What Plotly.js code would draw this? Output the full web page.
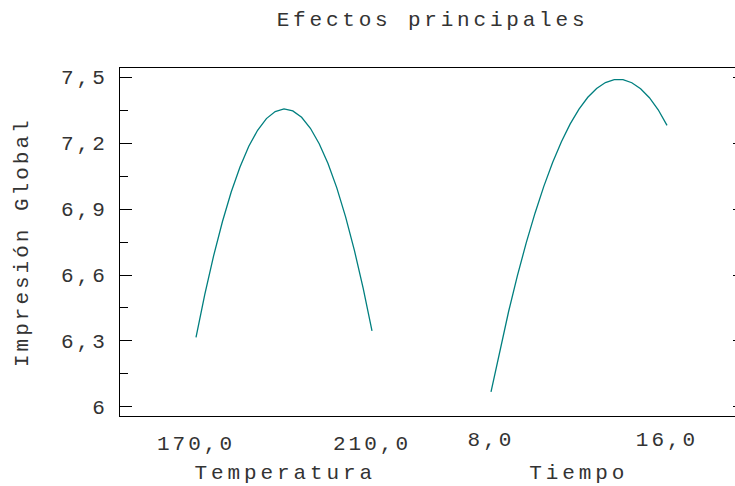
<!DOCTYPE html>
<html>
<head>
<meta charset="utf-8">
<script src="https://cdn.plot.ly/plotly-3.0.1.min.js"></script>
<style>
html, body { margin: 0; padding: 0; overflow: hidden; background: #fff; }
#chart text { letter-spacing: 3px; }
#chart .gtitle { letter-spacing: 3.8px; }
#chart .annotation[data-index="0"] text,
#chart .annotation[data-index="1"] text { letter-spacing: 3.9px; }
</style>
</head>
<body>
<div id="chart"></div>
<script>
// Temperatura factor (x) and predicted Impresión Global (y)
const temperatura = [170,172,174,176,178,180,182,184,186,188,190,192,194,196,198,200,202,204,206,208,210];
const efectoTemperatura = [6.316,6.512,6.687,6.842,6.977,7.091,7.185,7.258,7.311,7.343,7.355,7.346,7.317,7.267,7.197,7.107,6.996,6.864,6.712,6.539,6.346];
// Tiempo factor (x) and predicted Impresión Global (y)
const tiempo = [8.0,8.4,8.8,9.2,9.6,10.0,10.4,10.8,11.2,11.6,12.0,12.4,12.8,13.2,13.6,14.0,14.4,14.8,15.2,15.6,16.0];
const efectoTiempo = [6.069,6.258,6.434,6.597,6.746,6.881,7.003,7.111,7.206,7.287,7.354,7.408,7.448,7.475,7.488,7.488,7.474,7.447,7.406,7.351,7.28];
// Tick labels
const yTickVals = [6, 6.3, 6.6, 6.9, 7.2, 7.5];
const yTickText = ["6", "6,3", "6,6", "6,9", "7,2", "7,5"];
const tempTickVals = [170, 210];
const tempTickText = ["170,0", "210,0"];
const tiempoTickVals = [8, 16];
const tiempoTickText = ["8,0", "16,0"];
const chartTitle = "Efectos principales";
const yTitle = "Impresión Global";
const factorNames = ["Temperatura", "Tiempo"];

const FONT = "'Liberation Mono', 'DejaVu Sans Mono', monospace";
const TXT = '#333';
const lineColor = "#007f7f";

const traces = [
  { x: temperatura, y: efectoTemperatura, xaxis: 'x', yaxis: 'y', mode: 'lines',
    line: { color: lineColor, width: 1.3 }, hoverinfo: 'skip' },
  { x: tiempo, y: efectoTiempo, xaxis: 'x2', yaxis: 'y', mode: 'lines',
    line: { color: lineColor, width: 1.3 }, hoverinfo: 'skip' }
];

const layout = {
  width: 760, height: 486,
  margin: { l: 120, r: 15, t: 68, b: 70 },
  paper_bgcolor: '#fff', plot_bgcolor: '#fff',
  showlegend: false,
  font: { family: FONT, size: 21, color: TXT },
  title: { text: chartTitle, x: 0.5, xref: 'paper', xanchor: 'center',
           y: 1 - 19/486, yref: 'container', yanchor: 'middle',
           font: { family: FONT, size: 21, color: TXT } },
  xaxis: {
    range: [152.727, 294.773], domain: [0, 1],
    showgrid: false, zeroline: false,
    showline: true, linecolor: '#000', linewidth: 1, mirror: true,
    ticks: '', tickvals: tempTickVals, ticktext: tempTickText,
    ticklabelstandoff: 8,
    tickfont: { family: FONT, size: 21, color: TXT }
  },
  xaxis2: {
    range: [-8.864, 19.545], overlaying: 'x', anchor: 'y',
    showgrid: false, zeroline: false, showline: false,
    ticks: '', tickvals: tiempoTickVals, ticktext: tiempoTickText,
    ticklabelstandoff: 8,
    tickfont: { family: FONT, size: 21, color: TXT }
  },
  yaxis: {
    range: [5.959, 7.541],
    showgrid: false, zeroline: false,
    showline: true, linecolor: '#000', linewidth: 1, mirror: 'ticks',
    ticks: 'inside', ticklen: 12, tickcolor: '#000', tickwidth: 1,
    tickvals: yTickVals, ticktext: yTickText,
    ticklabelstandoff: 7,
    tickfont: { family: FONT, size: 21, color: TXT },
    minor: { ticks: 'inside', ticklen: 8, tickcolor: '#000', tickwidth: 1, dtick: 0.15, tick0: 6, showgrid: false }
  },
  annotations: [
    { text: factorNames[0], xref: 'paper', yref: 'paper', x: (285 - 120) / 625, y: -57 / 348,
      xanchor: 'center', yanchor: 'middle', showarrow: false,
      font: { family: FONT, size: 21, color: TXT } },
    { text: factorNames[1], xref: 'paper', yref: 'paper', x: (579 - 120) / 625, y: -57 / 348,
      xanchor: 'center', yanchor: 'middle', showarrow: false,
      font: { family: FONT, size: 21, color: TXT } },
    { text: yTitle, xref: 'paper', yref: 'paper', x: (22 - 120) / 625, y: 0.5,
      xanchor: 'center', yanchor: 'middle', textangle: -90, showarrow: false,
      font: { family: FONT, size: 21, color: TXT } }
  ]
};

Plotly.newPlot('chart', traces, layout, { staticPlot: true, displayModeBar: false });
</script>
</body>
</html>
